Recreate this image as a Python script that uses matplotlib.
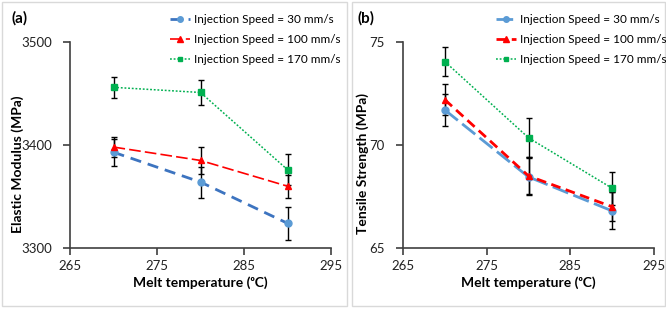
import matplotlib
matplotlib.use("Agg")
import matplotlib.pyplot as plt
from matplotlib.patches import Rectangle

plt.rcParams['font.family'] = ['Lato', 'DejaVu Sans']

temps = [270, 280, 290]
labels = ["Injection Speed = 30 mm/s", "Injection Speed = 100 mm/s", "Injection Speed = 170 mm/s"]

# (a) Elastic modulus
mod_30 = [3393, 3364, 3324]
mod_30_err = [13, 15, 16]
mod_100 = [3398, 3385, 3360]
mod_100_err = [10, 13, 11]
mod_170 = [3456, 3451, 3376]
mod_170_err = [10, 12, 15]

# (b) Tensile strength
ts_30 = [71.7, 68.45, 66.8]
ts_30_err = [0.8, 0.9, 0.9]
ts_100 = [72.2, 68.5, 67.0]
ts_100_err = [0.75, 0.9, 0.7]
ts_170 = [74.05, 70.35, 67.9]
ts_170_err = [0.7, 0.95, 0.8]

W, H = 666, 309
fig = plt.figure(figsize=(W / 100, H / 100), dpi=100)

def frac(l, t, r, b):
    return [l / W, 1 - b / H, (r - l) / W, (b - t) / H]

# panel frames
for (l, t, r, b) in [(2, 2, 347, 306), (352, 2, 665, 306)]:
    fig.patches.append(Rectangle((l / W, 1 - b / H), (r - l) / W, (b - t) / H,
                                 transform=fig.transFigure, fill=False,
                                 edgecolor='#d9d9d9', linewidth=1, zorder=-1))

ax1 = fig.add_axes(frac(70, 42, 331, 248))
ax2 = fig.add_axes(frac(403, 42, 654, 248))

spine_c = '#404040'

def style(ax, ylim, yticks):
    ax.set_xlim(265, 295)
    ax.set_xticks([265, 275, 285, 295])
    ax.set_ylim(*ylim)
    ax.set_yticks(yticks)
    for s in ['top', 'right']:
        ax.spines[s].set_visible(False)
    for s in ['left', 'bottom']:
        ax.spines[s].set_color(spine_c)
        ax.spines[s].set_linewidth(1.2)
    ax.tick_params(direction='out', length=5, width=1.2, color=spine_c,
                   labelsize=9.5, labelcolor='#222222', pad=8)
    ax.tick_params(axis='x', pad=4)
    ax.set_xlabel("Melt temperature (ᵒC)", fontsize=10, fontweight='bold')
    ax.xaxis.set_label_coords(0.5, -(276 - 248) / 206)

style(ax1, (3300, 3500), [3300, 3400, 3500])
style(ax2, (65, 75), [65, 70, 75])

ekw = dict(ecolor='black', elinewidth=1, capsize=2.5, capthick=1)

# panel (a)
ax1.errorbar(temps, mod_30, yerr=mod_30_err, color='#3D74C0', lw=2, dashes=(4, 2.5),
             marker='o', ms=5, mfc='#5B9BD5', mec='#5B9BD5', label=labels[0], **ekw)
ax1.errorbar(temps, mod_100, yerr=mod_100_err, color='#FF0000', lw=1.2, dashes=(7, 2.5),
             marker='^', ms=5, label=labels[1], **ekw)
ax1.errorbar(temps, mod_170, yerr=mod_170_err, color='#00B050', lw=1.1, dashes=(1.2, 1.2),
             marker='s', ms=4, label=labels[2], **ekw)
ax1.set_ylabel("Elastic Modulus (MPa)", fontsize=10, fontweight='bold')
ax1.yaxis.set_label_coords((24 - 70) / 261, (248 - 164) / 206)

# panel (b)
ax2.errorbar(temps, ts_30, yerr=ts_30_err, color='#5B9BD5', lw=2, dashes=(6, 2),
             marker='o', ms=5, label=labels[0], **ekw)
ax2.errorbar(temps, ts_100, yerr=ts_100_err, color='#FF0000', lw=2, dashes=(3.5, 2),
             marker='^', ms=5, label=labels[1], **ekw)
ax2.errorbar(temps, ts_170, yerr=ts_170_err, color='#00B050', lw=1.1, dashes=(1.2, 1.2),
             marker='s', ms=4, label=labels[2], **ekw)
ax2.set_ylabel("Tensile Strength (MPa)", fontsize=10, fontweight='bold')
ax2.yaxis.set_label_coords((369 - 403) / 251, (248 - 164) / 206)

for ax, x0 in [(ax1, 170), (ax2, 496)]:
    h, l = ax.get_legend_handles_labels()
    h = [hh[0] for hh in h]
    ax.legend(h, l, loc='upper left', bbox_to_anchor=(x0 / W, 1 - 14 / H),
              bbox_transform=fig.transFigure, frameon=False, fontsize=8.5,
              handlelength=1.7, handletextpad=0.3, labelspacing=0.75,
              borderpad=0, borderaxespad=0, markerscale=0.8)

fig.text(12 / W, 1 - 18 / H, "(a)", fontsize=11, fontweight='bold', va='center', ha='left')
fig.text(358 / W, 1 - 18 / H, "(b)", fontsize=11, fontweight='bold', va='center', ha='left')

fig.savefig("out.png", dpi=100)
